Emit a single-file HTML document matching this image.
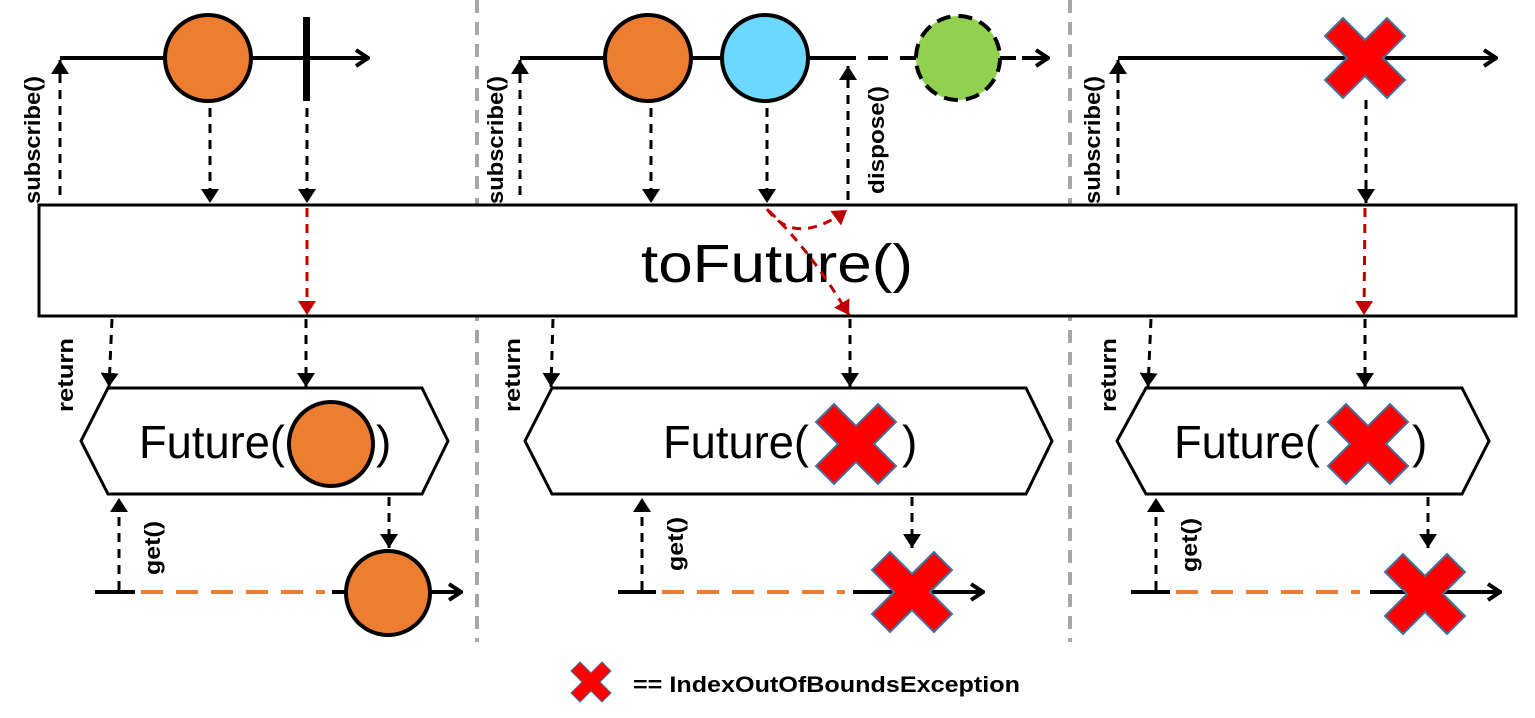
<!DOCTYPE html>
<html><head><meta charset="utf-8"><style>
html,body{margin:0;padding:0;background:#fff;}
svg{display:block;}
text{font-family:"Liberation Sans",sans-serif;}
</style></head><body>
<svg width="1535" height="718" viewBox="0 0 1535 718" xmlns="http://www.w3.org/2000/svg">
<defs>
<marker id="ah" viewBox="0 0 14 18" refX="14" refY="9" markerWidth="14" markerHeight="18" markerUnits="userSpaceOnUse" orient="auto"><path d="M0,0 L14,9 L0,18 z" fill="#000"/></marker>
<marker id="ahr" viewBox="0 0 14 18" refX="14" refY="9" markerWidth="14" markerHeight="18" markerUnits="userSpaceOnUse" orient="auto"><path d="M0,0 L14,9 L0,18 z" fill="#c00000"/></marker>
<marker id="oa" viewBox="0 0 16 20" refX="14" refY="10" markerWidth="16" markerHeight="20" markerUnits="userSpaceOnUse" orient="auto"><path d="M2,2 L14,10 L2,18" fill="none" stroke="#000" stroke-width="4"/></marker>
<polygon id="xx" points="-40,-22 -22,-40 0,-18 22,-40 40,-22 18,0 40,22 22,40 0,18 -22,40 -40,22 -18,0" fill="#ff0000" stroke="#41719c" stroke-width="2"/>
</defs>

<!-- dividers -->
<g stroke="#a6a6a6" stroke-width="4" stroke-dasharray="13,9">
<line x1="477" y1="0" x2="477" y2="642"/>
<line x1="1070" y1="0" x2="1070" y2="642"/>
</g>

<!-- main box -->
<rect x="39" y="205" width="1477" height="111" fill="#fff" stroke="#000" stroke-width="3"/>
<text x="641" y="282" font-size="54" textLength="272" lengthAdjust="spacingAndGlyphs">toFuture()</text>

<!-- ===== Panel 1 ===== -->
<line x1="60" y1="58" x2="368" y2="58" stroke="#000" stroke-width="4" marker-end="url(#oa)"/>
<circle cx="208" cy="58" r="43" fill="#ed7d31" stroke="#000" stroke-width="4"/>
<rect x="303" y="17" width="7" height="84" fill="#000"/>
<g stroke="#000" stroke-width="3" stroke-dasharray="9,7" fill="none">
<line x1="60" y1="195" x2="60" y2="60" marker-end="url(#ah)"/>
<line x1="210" y1="108" x2="210" y2="203" marker-end="url(#ah)"/>
<line x1="307" y1="108" x2="307" y2="203" marker-end="url(#ah)"/>
<line x1="112" y1="319" x2="109" y2="387" marker-end="url(#ah)"/>
<line x1="306" y1="319" x2="306" y2="387" marker-end="url(#ah)"/>
<line x1="119" y1="590" x2="119" y2="498" marker-end="url(#ah)"/>
<line x1="389" y1="497" x2="389" y2="548" marker-end="url(#ah)"/>
</g>
<line x1="307" y1="208" x2="307" y2="315" stroke="#c00000" stroke-width="3" stroke-dasharray="9,7" marker-end="url(#ahr)"/>
<text transform="translate(40,140) rotate(-90)" font-size="22" font-weight="bold" text-anchor="middle" textLength="128" lengthAdjust="spacingAndGlyphs">subscribe()</text>
<text transform="translate(73,375) rotate(-90)" font-size="22" font-weight="bold" text-anchor="middle" textLength="74" lengthAdjust="spacingAndGlyphs">return</text>
<text transform="translate(160,548) rotate(-90)" font-size="22" font-weight="bold" text-anchor="middle" textLength="54" lengthAdjust="spacingAndGlyphs">get()</text>
<polygon points="81,441 108,388 422,388 448,441 422,494 108,494" fill="#fff" stroke="#000" stroke-width="3"/>
<text x="139" y="458" font-size="46" textLength="146" lengthAdjust="spacingAndGlyphs">Future(</text>
<text x="376" y="458" font-size="46">)</text>
<circle cx="331" cy="444" r="42" fill="#ed7d31" stroke="#000" stroke-width="4"/>
<line x1="95" y1="592" x2="135" y2="592" stroke="#000" stroke-width="4"/>
<line x1="141" y1="592" x2="325" y2="592" stroke="#ed7d31" stroke-width="4" stroke-dasharray="22,13"/>
<line x1="332" y1="592" x2="461" y2="592" stroke="#000" stroke-width="4" marker-end="url(#oa)"/>
<circle cx="388" cy="593" r="42" fill="#ed7d31" stroke="#000" stroke-width="4"/>

<!-- ===== Panel 2 ===== -->
<line x1="520" y1="58" x2="836" y2="58" stroke="#000" stroke-width="4"/>
<line x1="836" y1="58" x2="1020" y2="58" stroke="#000" stroke-width="4" stroke-dasharray="20,12"/>
<line x1="1022" y1="58" x2="1048" y2="58" stroke="#000" stroke-width="4" marker-end="url(#oa)"/>
<circle cx="648" cy="58" r="43" fill="#ed7d31" stroke="#000" stroke-width="4"/>
<circle cx="765" cy="58" r="43" fill="#6dd8ff" stroke="#000" stroke-width="4"/>
<circle cx="958" cy="58" r="42" fill="#92d050" stroke="#000" stroke-width="4" stroke-dasharray="14,8"/>
<g stroke="#000" stroke-width="3" stroke-dasharray="9,7" fill="none">
<line x1="520" y1="195" x2="520" y2="60" marker-end="url(#ah)"/>
<line x1="651" y1="108" x2="651" y2="203" marker-end="url(#ah)"/>
<line x1="767" y1="108" x2="767" y2="203" marker-end="url(#ah)"/>
<line x1="848" y1="200" x2="848" y2="66" marker-end="url(#ah)"/>
<line x1="553" y1="319" x2="551" y2="387" marker-end="url(#ah)"/>
<line x1="850" y1="319" x2="850" y2="387" marker-end="url(#ah)"/>
<line x1="642" y1="590" x2="642" y2="498" marker-end="url(#ah)"/>
<line x1="912" y1="497" x2="912" y2="548" marker-end="url(#ah)"/>
</g>
<g stroke="#c00000" stroke-width="3" stroke-dasharray="9,7" fill="none">
<path d="M767,209 Q795,248 847,210" marker-end="url(#ahr)"/>
<path d="M769,211 Q810,250 849,315" marker-end="url(#ahr)"/>
</g>
<text transform="translate(503,140) rotate(-90)" font-size="22" font-weight="bold" text-anchor="middle" textLength="128" lengthAdjust="spacingAndGlyphs">subscribe()</text>
<text transform="translate(884,140) rotate(-90)" font-size="22" font-weight="bold" text-anchor="middle" textLength="108" lengthAdjust="spacingAndGlyphs">dispose()</text>
<text transform="translate(520,375) rotate(-90)" font-size="22" font-weight="bold" text-anchor="middle" textLength="74" lengthAdjust="spacingAndGlyphs">return</text>
<text transform="translate(683,544) rotate(-90)" font-size="22" font-weight="bold" text-anchor="middle" textLength="54" lengthAdjust="spacingAndGlyphs">get()</text>
<polygon points="525,441 552,388 1026,388 1052,441 1026,494 552,494" fill="#fff" stroke="#000" stroke-width="3"/>
<text x="663" y="458" font-size="46" textLength="146" lengthAdjust="spacingAndGlyphs">Future(</text>
<text x="902" y="458" font-size="46">)</text>
<use href="#xx" x="856" y="444"/>
<line x1="618" y1="592" x2="656" y2="592" stroke="#000" stroke-width="4"/>
<line x1="662" y1="592" x2="845" y2="592" stroke="#ed7d31" stroke-width="4" stroke-dasharray="22,13"/>
<line x1="853" y1="592" x2="983" y2="592" stroke="#000" stroke-width="4" marker-end="url(#oa)"/>
<use href="#xx" x="912" y="592"/>

<!-- ===== Panel 3 ===== -->
<line x1="1118" y1="58" x2="1496" y2="58" stroke="#000" stroke-width="4" marker-end="url(#oa)"/>
<use href="#xx" x="1365" y="58"/>
<g stroke="#000" stroke-width="3" stroke-dasharray="9,7" fill="none">
<line x1="1118" y1="195" x2="1118" y2="60" marker-end="url(#ah)"/>
<line x1="1366" y1="100" x2="1366" y2="203" marker-end="url(#ah)"/>
<line x1="1151" y1="319" x2="1148" y2="387" marker-end="url(#ah)"/>
<line x1="1365" y1="319" x2="1365" y2="387" marker-end="url(#ah)"/>
<line x1="1156" y1="590" x2="1156" y2="498" marker-end="url(#ah)"/>
<line x1="1428" y1="497" x2="1428" y2="548" marker-end="url(#ah)"/>
</g>
<line x1="1365" y1="208" x2="1364" y2="315" stroke="#c00000" stroke-width="3" stroke-dasharray="9,7" marker-end="url(#ahr)"/>
<text transform="translate(1100,140) rotate(-90)" font-size="22" font-weight="bold" text-anchor="middle" textLength="128" lengthAdjust="spacingAndGlyphs">subscribe()</text>
<text transform="translate(1116,375) rotate(-90)" font-size="22" font-weight="bold" text-anchor="middle" textLength="74" lengthAdjust="spacingAndGlyphs">return</text>
<text transform="translate(1197,545) rotate(-90)" font-size="22" font-weight="bold" text-anchor="middle" textLength="54" lengthAdjust="spacingAndGlyphs">get()</text>
<polygon points="1117,441 1146,388 1462,388 1489,441 1462,494 1146,494" fill="#fff" stroke="#000" stroke-width="3"/>
<text x="1174" y="458" font-size="46" textLength="146" lengthAdjust="spacingAndGlyphs">Future(</text>
<text x="1412" y="458" font-size="46">)</text>
<use href="#xx" x="1368" y="444"/>
<line x1="1131" y1="592" x2="1170" y2="592" stroke="#000" stroke-width="4"/>
<line x1="1176" y1="592" x2="1360" y2="592" stroke="#ed7d31" stroke-width="4" stroke-dasharray="22,13"/>
<line x1="1370" y1="592" x2="1500" y2="592" stroke="#000" stroke-width="4" marker-end="url(#oa)"/>
<use href="#xx" x="1425" y="594"/>

<!-- legend -->
<use href="#xx" transform="translate(591,682) scale(0.5)"/>
<text x="633" y="692" font-size="22" font-weight="bold" textLength="387" lengthAdjust="spacingAndGlyphs">== IndexOutOfBoundsException</text>
</svg>
</body></html>
